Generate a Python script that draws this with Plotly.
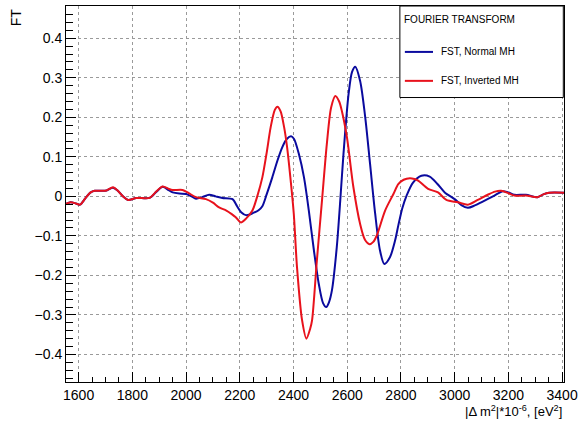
import plotly.graph_objects as go

# |dm^2| * 1e-6 [eV^2] sample positions and FT amplitudes
dm2_normal = [1553, 1570, 1590, 1605, 1625, 1645, 1660, 1685, 1704, 1728, 1745, 1765, 1784,
              1815, 1864, 1890, 1913, 1935, 1950, 1975, 2000, 2020, 2037, 2060, 2086, 2110,
              2135, 2173, 2190, 2205, 2225, 2250, 2270, 2284, 2300, 2321, 2340, 2358, 2375,
              2391, 2402, 2420, 2439, 2457, 2476, 2494, 2510, 2522, 2532, 2543, 2561, 2574,
              2586, 2605, 2618, 2630, 2648, 2667, 2685, 2704, 2722, 2738, 2759, 2778, 2790,
              2805, 2821, 2845, 2876, 2907, 2935, 2963, 3000, 3025, 3049, 3075, 3099, 3148,
              3179, 3200, 3222, 3265, 3308, 3330, 3352, 3407]
ft_normal = [-0.019, -0.015, -0.018, -0.021, -0.005, 0.010, 0.014, 0.014, 0.015, 0.022, 0.015,
             0.000, -0.009, -0.004, -0.004, 0.012, 0.024, 0.016, 0.010, 0.007, 0.006, 0.000,
             -0.006, -0.002, 0.004, 0.000, -0.004, -0.007, -0.025, -0.040, -0.048, -0.042,
             -0.035, -0.025, 0.005, 0.048, 0.090, 0.124, 0.145, 0.152, 0.145, 0.107, 0.048,
             -0.036, -0.137, -0.221, -0.270, -0.280, -0.268, -0.238, -0.129, -0.011, 0.107,
             0.259, 0.315, 0.328, 0.292, 0.200, 0.082, -0.044, -0.137, -0.171, -0.154, -0.112,
             -0.074, -0.030, 0.002, 0.035, 0.052, 0.050, 0.032, 0.010, -0.007, -0.022, -0.029,
             -0.023, -0.015, 0.002, 0.013, 0.010, 0.004, 0.004, -0.002, 0.005, 0.009, 0.009]

dm2_inverted = [1553, 1570, 1590, 1605, 1625, 1645, 1660, 1685, 1704, 1728, 1745, 1765, 1784,
                1815, 1864, 1890, 1913, 1935, 1950, 1987, 2010, 2037, 2074, 2100, 2123, 2150,
                2170, 2185, 2204, 2225, 2247, 2265, 2284, 2300, 2315, 2330, 2340, 2352, 2365,
                2376, 2388, 2401, 2413, 2432, 2448, 2462, 2469, 2487, 2506, 2524, 2540, 2556,
                2570, 2580, 2599, 2623, 2648, 2666, 2683, 2697, 2710, 2741, 2772, 2790, 2810,
                2833, 2850, 2864, 2901, 2938, 2969, 3012, 3049, 3086, 3123, 3150, 3173, 3200,
                3222, 3265, 3308, 3330, 3352, 3407]
ft_inverted = [-0.019, -0.015, -0.018, -0.021, -0.005, 0.010, 0.014, 0.014, 0.015, 0.023, 0.015,
               0.000, -0.009, -0.004, -0.004, 0.013, 0.025, 0.019, 0.016, 0.016, 0.008, -0.002,
               -0.007, -0.016, -0.028, -0.036, -0.045, -0.053, -0.066, -0.055, -0.036, 0.000,
               0.048, 0.110, 0.175, 0.218, 0.227, 0.215, 0.175, 0.125, 0.050, -0.044, -0.179,
               -0.314, -0.360, -0.335, -0.314, -0.162, -0.011, 0.132, 0.225, 0.254, 0.240, 0.216,
               0.149, 0.023, -0.070, -0.110, -0.121, -0.115, -0.099, -0.036, 0.006, 0.031, 0.042,
               0.046, 0.044, 0.040, 0.019, 0.010, -0.009, -0.015, -0.021, -0.009, 0.004, 0.012,
               0.014, 0.008, 0.002, 0.002, -0.002, 0.005, 0.009, 0.009]

x_ticks = [1600, 1800, 2000, 2200, 2400, 2600, 2800, 3000, 3200, 3400]
y_ticks = [-0.4, -0.3, -0.2, -0.1, 0, 0.1, 0.2, 0.3, 0.4]

BLUE = "#0a0a9e"
RED = "#e8121c"
FONT = "Liberation Sans"

fig = go.Figure()
fig.add_trace(go.Scatter(x=dm2_normal, y=ft_normal, mode="lines", name="FST, Normal MH",
                         line=dict(color=BLUE, width=2, shape="spline", smoothing=0.8)))
fig.add_trace(go.Scatter(x=dm2_inverted, y=ft_inverted, mode="lines", name="FST, Inverted MH",
                         line=dict(color=RED, width=2, shape="spline", smoothing=0.8)))

axis_common = dict(
    showline=True, linecolor="black", linewidth=1, mirror=True,
    showgrid=True, gridcolor="#9a9a9a", griddash="dot", gridwidth=1,
    zeroline=False, ticks="inside", ticklen=10, tickcolor="black",
    tickfont=dict(family=FONT, size=14, color="black"),
)

fig.update_xaxes(range=[1553, 3407], tickvals=x_ticks, ticktext=[str(v) for v in x_ticks],
                 minor=dict(dtick=50, tick0=1600, ticks="inside", ticklen=5, tickcolor="black",
                            showgrid=False),
                 **axis_common)
fig.update_yaxes(range=[-0.4697, 0.4816], tickvals=y_ticks,
                 ticktext=["\u22120.4", "\u22120.3", "\u22120.2", "\u22120.1", "0",
                           "0.1", "0.2", "0.3", "0.4"],
                 minor=dict(dtick=0.02, tick0=0, ticks="inside", ticklen=7, tickcolor="black",
                            showgrid=False),
                 **axis_common)

# axis titles
fig.add_annotation(text="|\u0394 m<sup>2</sup>|*10<sup>-6</sup>, [eV<sup>2</sup>]",
                   xref="paper", yref="paper", x=1.0, y=-0.0775, xanchor="right",
                   yanchor="middle", showarrow=False,
                   font=dict(family=FONT, size=13, color="black"))
fig.add_annotation(text="FT", textangle=-90, xref="paper", yref="paper", x=-0.1, y=1.0,
                   xanchor="center", yanchor="top", showarrow=False,
                   font=dict(family=FONT, size=14, color="black"))

# legend box (drawn in paper coordinates)
W, H = 500.7, 376.7
def px(xp):
    return (xp - 66) / W
def py(yp):
    return (381.7 - yp) / H

fig.add_shape(type="rect", xref="paper", yref="paper", x0=px(401.7), x1=px(566), y0=py(96.7),
              y1=py(5), line=dict(color="black", width=1), fillcolor="white", layer="above")
fig.add_annotation(text="FOURIER TRANSFORM", xref="paper", yref="paper", x=px(404), y=py(19),
                   xanchor="left", yanchor="middle", showarrow=False,
                   font=dict(family=FONT, size=10, color="black"))
for ypos, color, label in [(51, BLUE, "FST, Normal MH"), (80, RED, "FST, Inverted MH")]:
    fig.add_shape(type="line", xref="paper", yref="paper", x0=px(406.7), x1=px(435),
                  y0=py(ypos), y1=py(ypos), line=dict(color=color, width=2), layer="above")
    fig.add_annotation(text=label, xref="paper", yref="paper", x=px(441.5), y=py(ypos),
                       xanchor="left", yanchor="middle", showarrow=False,
                       font=dict(family=FONT, size=10, color="black"))

fig.update_layout(
    width=583, height=422,
    margin=dict(l=66, r=16.3, t=5, b=40.3),
    paper_bgcolor="white", plot_bgcolor="white",
    showlegend=False,
    font=dict(family=FONT, color="black"),
)

fig.write_html("out.html")
